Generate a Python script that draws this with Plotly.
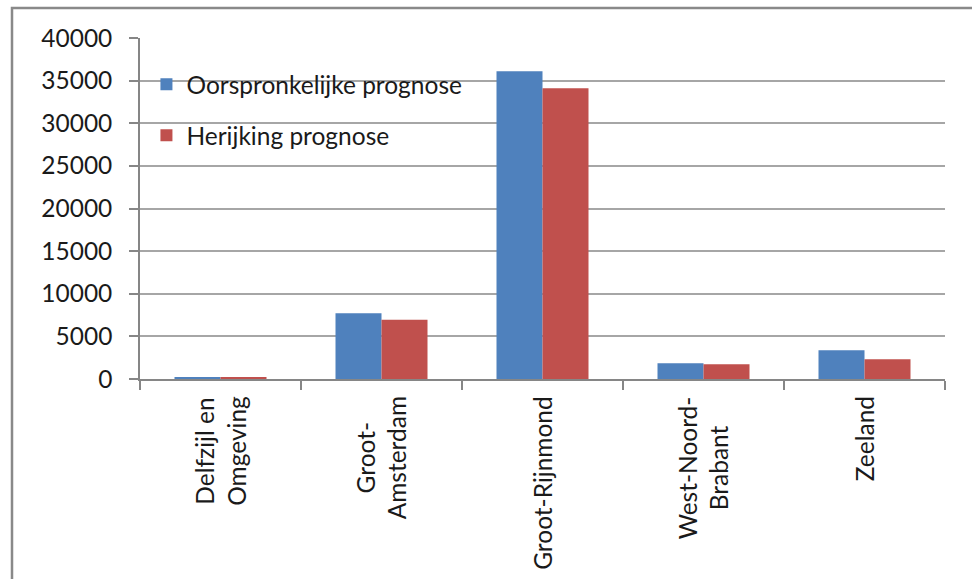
import plotly.graph_objects as go

# Regions (two-line labels drawn below the axis)
regions = ["Delfzijl en<br>Omgeving", "Groot-<br>Amsterdam", "Groot-Rijnmond",
           "West-Noord-<br>Brabant", "Zeeland"]
region_keys = ["Delfzijl", "Amsterdam", "Rijnmond", "WNB", "Zeeland"]

oorspronkelijk = [200, 7700, 36100, 1840, 3360]
herijking = [190, 6950, 34100, 1720, 2310]

y_ticks = [0, 5000, 10000, 15000, 20000, 25000, 30000, 35000, 40000]
y_tick_text = ["0", "5000", "10000", "15000", "20000", "25000", "30000", "35000", "40000"]

FONT = "Lato"
FS = 24.5
TXT = "#1a1a1a"
BLUE = "#4F81BD"
RED = "#C0504D"

fig = go.Figure()
fig.add_trace(go.Bar(name="Oorspronkelijke prognose", x=region_keys, y=oorspronkelijk,
                     marker=dict(color=BLUE, line=dict(width=0)), legendgroup="a"))
fig.add_trace(go.Bar(name="Herijking prognose", x=region_keys, y=herijking,
                     marker=dict(color=RED, line=dict(width=0)), legendgroup="b"))

# Category labels, centred multi-line, rotated
for key, lab in zip(region_keys, regions):
    fig.add_annotation(x=key, y=-0.045, xref="x", yref="paper", text=lab,
                       textangle=-90, showarrow=False, xanchor="center", yanchor="top",
                       align="center", font=dict(family=FONT, size=FS, color=TXT))

# Outer chart frame
fig.add_shape(type="rect", xref="paper", yref="paper",
              x0=(12 - 140) / 805, x1=1.2, y0=-0.8, y1=1 + (38 - 8) / 341,
              line=dict(color="#898989", width=2.5), fillcolor="rgba(0,0,0,0)", layer="below")

fig.update_layout(
    width=972, height=579,
    margin=dict(l=140, r=27, t=38, b=200),
    paper_bgcolor="white", plot_bgcolor="white",
    barmode="group", bargap=1.5 / 3.5, bargroupgap=0,
    font=dict(family=FONT, size=FS, color=TXT),
    showlegend=True,
    legend=dict(x=0.008, y=0.93, xanchor="left", yanchor="top",
                bgcolor="rgba(0,0,0,0)", font=dict(family=FONT, size=FS, color=TXT),
                tracegroupgap=16, traceorder="grouped"),
    xaxis=dict(type="category", showticklabels=False, tickson="boundaries",
               ticks="outside", ticklen=9, tickcolor="#868686", tickwidth=1.5,
               showline=True, linecolor="#868686", linewidth=1.5,
               showgrid=False, zeroline=False),
    yaxis=dict(range=[0, 40000], tickvals=y_ticks, ticktext=y_tick_text,
               ticks="outside", ticklen=9,
               tickcolor="#868686", tickwidth=1.5, showline=True, linecolor="#868686",
               linewidth=1.5, showgrid=True, gridcolor="#a6a6a6", gridwidth=1.5,
               zeroline=False, tickfont=dict(family=FONT, size=FS, color=TXT),
               ticklabelstandoff=12),
)

fig.write_html("out.html")
